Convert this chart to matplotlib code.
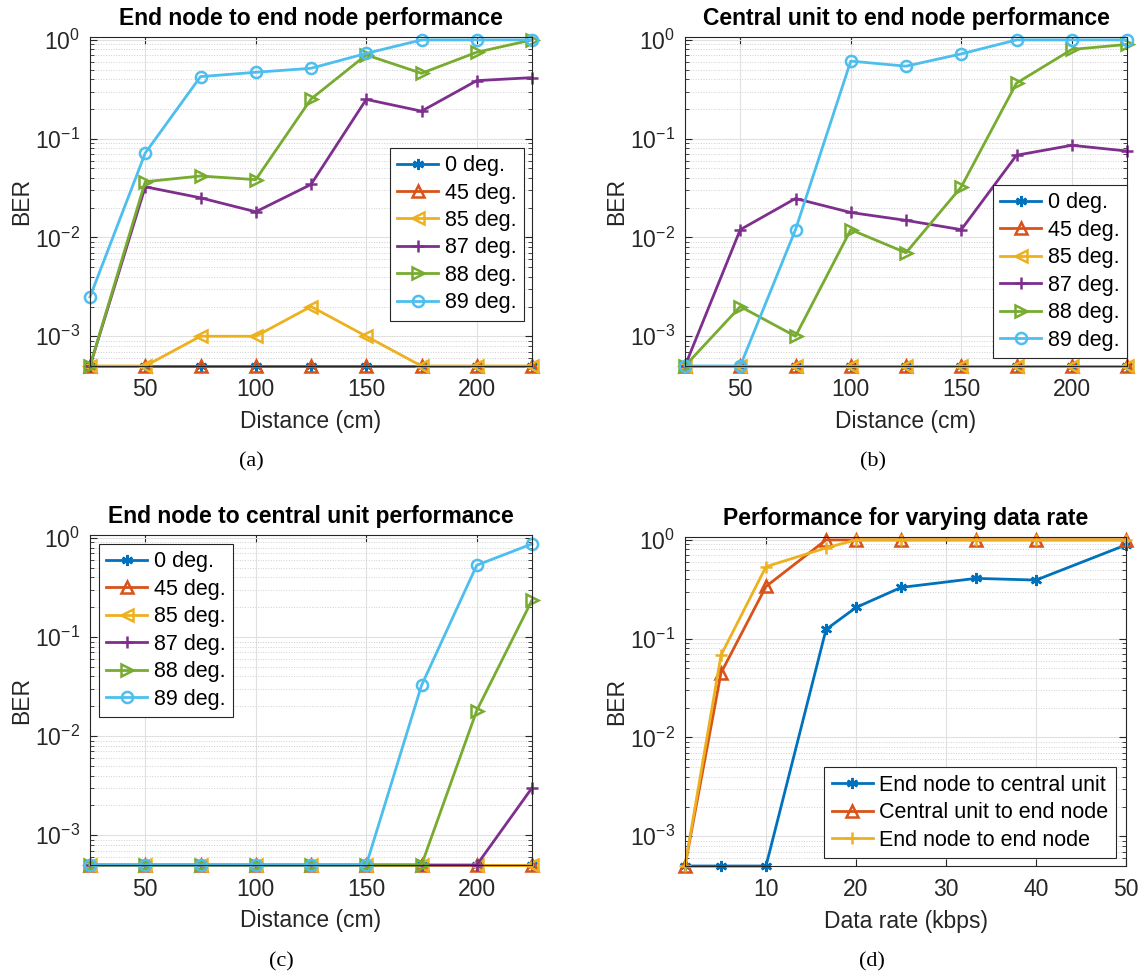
import numpy as np
import matplotlib
matplotlib.use("Agg")
from matplotlib import pyplot as plt
from matplotlib.ticker import LogLocator, NullFormatter

plt.rcParams['font.family'] = ['Liberation Sans', 'DejaVu Sans']
plt.rcParams['mathtext.fontset'] = 'custom'
plt.rcParams['mathtext.rm'] = 'Liberation Sans'

# ---- data ----
distance = [25, 50, 75, 100, 125, 150, 175, 200, 225]
angles = ['0 deg.', '45 deg.', '85 deg.', '87 deg.', '88 deg.', '89 deg.']

# (a) end node to end node
a_0 = [5e-4] * 9
a_45 = [5e-4] * 9
a_85 = [5e-4, 5e-4, 1e-3, 1e-3, 2e-3, 1e-3, 5e-4, 5e-4, 5e-4]
a_87 = [5e-4, 0.0326, 0.0252, 0.0182, 0.0344, 0.25, 0.19, 0.387, 0.415]
a_88 = [5e-4, 0.0367, 0.0419, 0.0385, 0.252, 0.705, 0.459, 0.75, 1.0]
a_89 = [2.5e-3, 0.0716, 0.425, 0.47, 0.516, 0.73, 1.0, 1.0, 1.0]

# (b) central unit to end node
b_0 = [5e-4] * 9
b_45 = [5e-4] * 9
b_85 = [5e-4] * 9
b_87 = [5e-4, 0.012, 0.0248, 0.0179, 0.0149, 0.012, 0.068, 0.0857, 0.075]
b_88 = [5e-4, 2e-3, 1e-3, 0.012, 0.007, 0.0325, 0.365, 0.80, 0.90]
b_89 = [5e-4, 5e-4, 0.012, 0.61, 0.542, 0.722, 1.0, 1.0, 1.0]

# (c) end node to central unit
c_0 = [5e-4] * 9
c_45 = [5e-4] * 9
c_85 = [5e-4] * 9
c_87 = [5e-4, 5e-4, 5e-4, 5e-4, 5e-4, 5e-4, 5e-4, 5e-4, 3.0e-3]
c_88 = [5e-4, 5e-4, 5e-4, 5e-4, 5e-4, 5e-4, 5e-4, 0.0181, 0.235]
c_89 = [5e-4, 5e-4, 5e-4, 5e-4, 5e-4, 5e-4, 0.0324, 0.53, 0.87]

# (d) varying data rate
rate = [1, 5, 10, 16.67, 20, 25, 33.33, 40, 50]
rate_labels = ['End node to central unit', 'Central unit to end node', 'End node to end node']
d_en_cu = [5e-4, 5e-4, 5e-4, 0.124, 0.207, 0.33, 0.408, 0.392, 0.89]
d_cu_en = [5e-4, 0.045, 0.338, 1.0, 1.0, 1.0, 1.0, 1.0, 1.0]
d_en_en = [5e-4, 0.068, 0.536, 0.83, 1.0, 1.0, 1.0, 1.0, 1.0]

colors = ['#0072BD', '#D95319', '#EDB120', '#7E2F8E', '#77AC30', '#4DBEEE']
asterisk = (6, 2, 0)
markers = [asterisk, '^', '<', '+', '>', 'o']

FS = 16.5


def style_axes(ax, title, xlabel, xlim, xticks):
    ax.set_yscale('log')
    ax.set_ylim(5e-4, 1.07)
    ax.set_xlim(*xlim)
    ax.set_xticks(xticks)
    ax.yaxis.set_major_locator(LogLocator(base=10, numticks=10))
    ax.yaxis.set_minor_locator(LogLocator(base=10, subs=np.arange(2, 10), numticks=10))
    ax.yaxis.set_minor_formatter(NullFormatter())
    ax.set_title(title, fontsize=FS, fontweight='bold', pad=8.5)
    ax.set_xlabel(xlabel, fontsize=FS, color='#262626')
    ax.set_ylabel('BER', fontsize=FS, color='#262626')
    ax.xaxis.set_label_coords(0.5, -0.134)
    ax.yaxis.set_label_coords(-0.129, 0.5)
    ax.tick_params(which='both', direction='in', top=True, right=True,
                   labelsize=FS, colors='#262626')
    ax.tick_params(axis='x', pad=9)
    ax.tick_params(axis='y', pad=7)
    ax.tick_params(which='major', length=5)
    ax.tick_params(which='minor', length=3)
    ax.grid(True, which='major', color='#e0e0e0', lw=0.8)
    ax.grid(True, which='minor', axis='y', color='#cfcfcf', lw=0.7, ls=':')
    for s in ax.spines.values():
        s.set_color('#262626')
        s.set_linewidth(0.8)
    ax.set_axisbelow(True)


def plot_angles(ax, x, series):
    for y, c, m, lab in zip(series, colors, markers, angles):
        ax.plot(x, y, color=c, marker=m, lw=2, ms=8, mfc='none', mew=1.8,
                label=lab, clip_on=False)


fig = plt.figure(figsize=(11.41, 9.73), dpi=100)
W, H = 1141, 973


def add_ax(l, r, t, b):
    return fig.add_axes([l / W, 1 - b / H, (r - l) / W, (b - t) / H])


ax1 = add_ax(90, 532, 37, 366)
ax2 = add_ax(685, 1127, 37, 366)
ax3 = add_ax(90, 532, 535, 865)
ax4 = add_ax(685, 1126, 537, 866)

plot_angles(ax1, distance, [a_0, a_45, a_85, a_87, a_88, a_89])
style_axes(ax1, 'End node to end node performance', 'Distance (cm)', (25, 225), [50, 100, 150, 200])

plot_angles(ax2, distance, [b_0, b_45, b_85, b_87, b_88, b_89])
style_axes(ax2, 'Central unit to end node performance', 'Distance (cm)', (25, 225), [50, 100, 150, 200])

plot_angles(ax3, distance, [c_0, c_45, c_85, c_87, c_88, c_89])
style_axes(ax3, 'End node to central unit performance', 'Distance (cm)', (25, 225), [50, 100, 150, 200])

for y, c, m, lab in zip([d_en_cu, d_cu_en, d_en_en], colors[:3], [asterisk, '^', '+'], rate_labels):
    ax4.plot(rate, y, color=c, marker=m, lw=2, ms=8, mfc='none', mew=1.8,
             label=lab, clip_on=False)
style_axes(ax4, 'Performance for varying data rate', 'Data rate (kbps)', (1, 50), [10, 20, 30, 40, 50])

leg_kw = dict(fontsize=15.5, fancybox=False, edgecolor='#262626', framealpha=1,
              handlelength=1.9, handletextpad=0.3, borderpad=0.35, labelspacing=0.3,
              borderaxespad=0)
for ax, loc, anchor in [(ax1, 'lower right', (0.982, 0.137)),
                        (ax2, 'lower right', (1.0, 0.024)),
                        (ax3, 'upper left', (0.02, 0.973)),
                        (ax4, 'lower right', (0.977, 0.024))]:
    leg = ax.legend(loc=loc, bbox_to_anchor=anchor, **leg_kw)
    leg.get_frame().set_linewidth(0.8)

for lab, x, y in [('(a)', 251, 462), ('(b)', 873, 462), ('(c)', 281, 962), ('(d)', 872, 962)]:
    fig.text(x / W, 1 - y / H, lab, ha='center', va='center', fontsize=16,
             family='Liberation Serif')

fig.savefig('out.png', dpi=100)
